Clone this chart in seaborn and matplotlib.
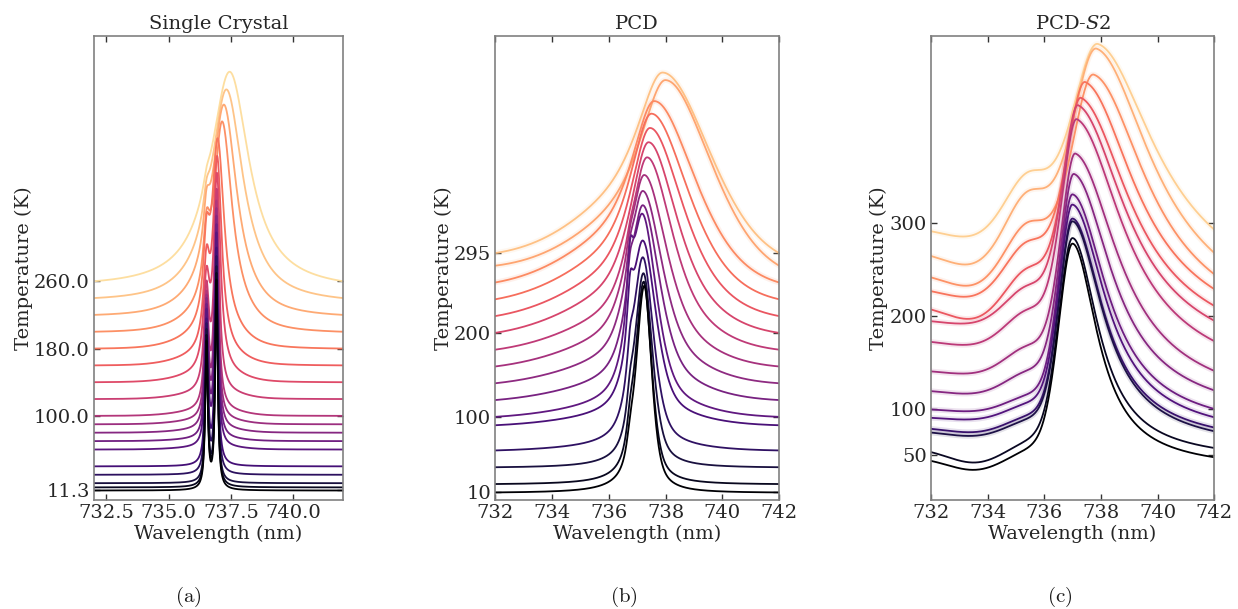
import numpy as np
import pandas as pd
import matplotlib
matplotlib.use("Agg")
import matplotlib.pyplot as plt
import seaborn as sns

# ---------------------------------------------------------------------------
# Spectra parameters, one entry per temperature trace (offset = temperature, K)
# ---------------------------------------------------------------------------
# (a) single crystal
temps_a = [11.3, 15, 20, 30, 40, 60, 70, 80, 90, 100, 120, 140, 160, 180, 200, 220, 240, 260]
tops_a = [262, 270, 278, 290, 300, 318, 328, 338, 347, 356, 370, 389, 409, 430, 450, 470, 488, 509]
centers_a = [736.92, 736.92, 736.92, 736.92, 736.92, 736.92, 736.92, 736.92, 736.92, 736.92,
             736.93, 736.94, 736.95, 736.97, 737.15, 737.22, 737.32, 737.45]
hwhm_left_a = [0.06, 0.06, 0.06, 0.065, 0.07, 0.075, 0.08, 0.085, 0.09, 0.10,
               0.12, 0.16, 0.20, 0.28, 0.42, 0.58, 0.75, 0.95]
hwhm_right_a = [0.06, 0.06, 0.06, 0.065, 0.07, 0.075, 0.08, 0.085, 0.09, 0.10,
                0.12, 0.17, 0.22, 0.32, 0.48, 0.62, 0.80, 0.95]
side_a = [0.70, 0.70, 0.70, 0.68, 0.66, 0.62, 0.60, 0.58, 0.55, 0.52,
          0.48, 0.42, 0.38, 0.34, 0.25, 0.18, 0.10, 0.05]
pedestal_a = [0.0, 0.0, 0.0, 0.0, 0.0, 0.01, 0.01, 0.015, 0.02, 0.025,
              0.03, 0.04, 0.05, 0.06, 0.06, 0.05, 0.04, 0.0]

# (b) PCD
temps_b = [10, 20, 40, 60, 90, 100, 120, 140, 160, 180, 200, 220, 240, 260, 280, 295]
tops_b = [256, 261, 271, 290, 310, 342, 352, 369, 388, 409, 427, 444, 461, 476, 501, 510]
centers_b = [737.25, 737.23, 737.22, 737.2, 737.2, 737.18, 737.2, 737.2, 737.25, 737.35,
             737.4, 737.45, 737.5, 737.6, 738.0, 737.9]
hwhm_left_b = [0.36, 0.37, 0.40, 0.45, 0.50, 0.52, 0.56, 0.60, 0.65, 0.70,
               0.75, 0.80, 0.85, 0.90, 1.00, 1.00]
hwhm_right_b = [0.31, 0.33, 0.38, 0.45, 0.55, 0.60, 0.70, 0.80, 0.90, 1.00,
                1.10, 1.25, 1.40, 1.55, 1.80, 1.90]
side_b = [0.06, 0.08, 0.10, 0.14, 0.26, 0.26, 0.12, 0.08, 0.05, 0.03,
          0.0, 0.0, 0.0, 0.0, 0.0, 0.0]
pedestal_b = [0.0, 0.0, 0.0, 0.02, 0.05, 0.06, 0.09, 0.12, 0.15, 0.18,
              0.22, 0.25, 0.28, 0.32, 0.36, 0.40]

# (c) PCD-S2
temps_c = [48, 58, 76, 80, 91, 100, 120, 141, 173, 195, 211, 229, 245, 268, 293]
tops_c = [278, 284, 302, 305, 320, 331, 353, 375, 412, 427, 435, 452, 460, 488, 493]
centers_c = [737.0, 737.0, 737.0, 737.0, 737.0, 737.0, 737.05, 737.1, 737.15, 737.2,
             737.3, 737.45, 737.75, 737.85, 737.9]
hwhm_left_c = [0.60, 0.60, 0.58, 0.58, 0.58, 0.58, 0.60, 0.62, 0.65, 0.68,
               0.72, 0.80, 0.95, 1.05, 1.10]
hwhm_right_c = [1.06, 1.10, 1.30, 1.30, 1.40, 1.45, 1.60, 1.80, 1.95, 2.00,
                2.05, 2.10, 2.20, 2.30, 2.40]
side_c = [0.03, 0.03, 0.05, 0.05, 0.06, 0.06, 0.09, 0.12, 0.15, 0.17,
          0.20, 0.24, 0.27, 0.30, 0.30]
dip_c = [14, 16, 5, 5, 2, 2, 3, 2, 3, 2, 14, 8, 12, 12, 6]

# axis ticks
xticks_a = [732.5, 735.0, 737.5, 740.0]
xticks_bc = [732, 734, 736, 738, 740, 742]
yticks_a = [11.3, 100.0, 180.0, 260.0]
yticks_b = [10, 100, 200, 295]
yticks_c = [50, 100, 200, 300]
titles = ["Single Crystal", "PCD", r"PCD-$\mathit{S2}$"]
captions = ["(a)", "(b)", "(c)"]

wavelength = np.linspace(732.0, 742.0, 1001)


def line_shape(x, center, hl, hr, eta_l, eta_r):
    d = x - center
    h = np.where(d < 0, hl, hr)
    eta = np.where(d < 0, eta_l, eta_r)
    u = d / h
    return eta / (1 + u ** 2) + (1 - eta) * np.exp(-np.log(2) * u ** 2)


def spectrum(base, top, center, hl, hr, side, side_pos, side_w, ped, ped_w,
             eta_l, eta_r, dip=0.0):
    x = wavelength
    prof = (1 - ped) * line_shape(x, center, hl, hr, eta_l, eta_r)
    prof += ped * line_shape(x, center, ped_w, ped_w * 0.7, 0.0, 0.0)
    prof += side * line_shape(x, side_pos, side_w, side_w, eta_l, eta_l)
    # remove the straight background through both ends of the window
    prof -= prof[0] + (prof[-1] - prof[0]) * (x - x[0]) / (x[-1] - x[0])
    prof /= prof.max()
    y = base + (top - base) * prof
    y -= dip * np.exp(-0.5 * ((x - 733.6) / 1.0) ** 2)
    return y


def build_frame(temps, tops, centers, hl, hr, side, side_pos, ped, ped_w,
                eta_l, eta_r, dips=None, side_width=None):
    rows = []
    for i, t in enumerate(temps):
        sw = side_width if side_width is not None else min(hl[i], 0.15)
        d = dips[i] if dips is not None else 0.0
        y = spectrum(t, tops[i], centers[i], hl[i], hr[i], side[i], side_pos, sw,
                     ped[i], ped_w, eta_l, eta_r, d)
        rows.append(pd.DataFrame({"wavelength": wavelength, "signal": y, "trace": i}))
    return pd.concat(rows, ignore_index=True)


df_a = build_frame(temps_a, tops_a, centers_a, hwhm_left_a, hwhm_right_a, side_a,
                   736.52, pedestal_a, 1.5, 1.0, 1.0)
df_b = build_frame(temps_b, tops_b, centers_b, hwhm_left_b, hwhm_right_b, side_b,
                   736.75, pedestal_b, 3.0, 0.7, 0.6, side_width=0.12)
df_c = build_frame(temps_c, tops_c, centers_c, hwhm_left_c, hwhm_right_c, side_c,
                   735.4, [0.0] * len(temps_c), 2.0, 0.3, 1.0, dips=dip_c, side_width=1.0)

# ---------------------------------------------------------------------------
sns.set_theme(style="ticks")
plt.rcParams["font.family"] = ["DejaVu Serif"]
plt.rcParams["mathtext.fontset"] = "dejavuserif"
FS = 14

fig = plt.figure(figsize=(12.38, 6.09), dpi=100)
boxes = [[0.0759, 0.179, 0.2011, 0.7612],
         [0.4001, 0.179, 0.2292, 0.7612],
         [0.7520, 0.179, 0.2288, 0.7612]]
axes = [fig.add_axes(b) for b in boxes]

panels = [
    (df_a, len(temps_a), 0.93, (0.0, 551), xticks_a, yticks_a, [f"{v:.1f}" for v in yticks_a], [f"{v:.1f}" for v in xticks_a], 0),
    (df_b, len(temps_b), 0.87, (1.0, 553), xticks_bc, yticks_b, [str(v) for v in yticks_b], [str(v) for v in xticks_bc], 3),
    (df_c, len(temps_c), 0.90, (2.0, 501), xticks_bc, yticks_c, [str(v) for v in yticks_c], [str(v) for v in xticks_bc], 13),
]

for ax, (df, n, cmax, ylim, xt, yt, ytl, xtl, n_haze), title in zip(axes, panels, titles):
    colors = sns.color_palette("magma", as_cmap=True)(np.linspace(0, cmax, n))
    palette = {i: colors[i] for i in range(n)}
    order = list(range(n))[::-1]
    if n_haze:
        hz_order = [o for o in order if o >= n - n_haze]
        hz = df[df["trace"] >= n - n_haze]
        sns.lineplot(data=hz, x="wavelength", y="signal", hue="trace", hue_order=hz_order,
                     palette=palette, legend=False, linewidth=4.0, alpha=0.12,
                     estimator=None, sort=False, ax=ax)
    sns.lineplot(data=df, x="wavelength", y="signal", hue="trace", hue_order=order,
                 palette=palette, legend=False, linewidth=1.3,
                 estimator=None, sort=False, ax=ax)
    ax.set_xlim(732, 742)
    ax.set_ylim(*ylim)
    ax.set_xticks(xt)
    ax.set_xticklabels(xtl)
    ax.set_yticks(yt)
    ax.set_yticklabels(ytl)
    ax.set_xlabel("Wavelength (nm)", fontsize=FS, labelpad=2)
    ax.set_ylabel("Temperature (K)", fontsize=FS, labelpad=1)
    ax.set_title(title, fontsize=FS, pad=5)
    ax.tick_params(direction="in", top=True, right=True, length=4, width=1.0,
                   color="0.2", labelsize=FS, labelcolor="0.15", pad=3)
    for sp in ax.spines.values():
        sp.set_color("0.5")
        sp.set_linewidth(1.2)

cap_x = [188, 624, 1060]
for x, cap in zip(cap_x, captions):
    fig.text(x / 1238, 1 - 597 / 609, r"$\mathrm{" + cap + "}$", ha="center", va="center",
             fontsize=FS + 1, math_fontfamily="cm", color="0.1")

fig.savefig("out.png", dpi=100)
